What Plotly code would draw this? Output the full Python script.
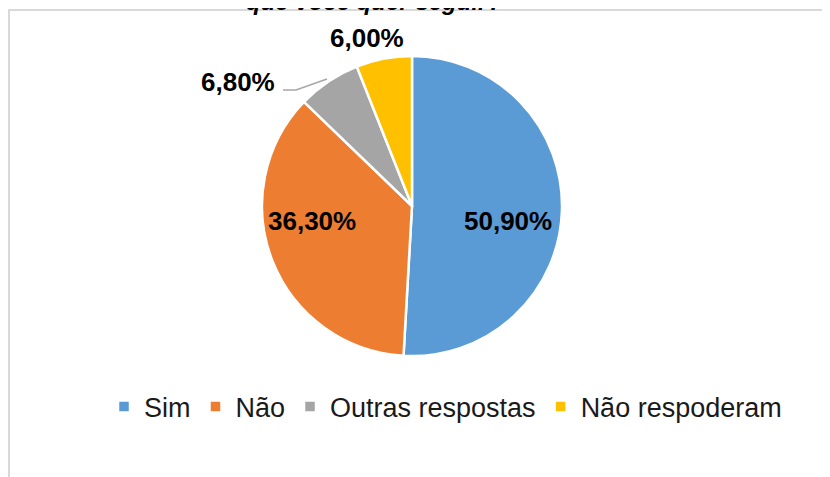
import plotly.graph_objects as go

W, H = 830, 477
OFF = 8  # the page body adds an 8px margin around the figure

labels = ['Sim', 'Não', 'Outras respostas', 'Não respoderam']
values = [50.9, 36.3, 6.8, 6.0]
colors = ['#5B9BD5', '#ED7D31', '#A5A5A5', '#FFC000']
title_tail = 'que você quer seguir?'

# where each percentage label sits on the page (x, y in pixels)
label_pos = [(508, 221), (312, 221), (238, 82), (367, 38)]


def px_x(x):
    return (x - OFF) / W


def px_y(y):
    return 1 - (y - OFF) / H


fig = go.Figure(
    go.Pie(
        labels=labels,
        values=values,
        sort=False,
        direction='clockwise',
        rotation=0,
        marker=dict(colors=colors, line=dict(color='white', width=2.5)),
        textinfo='none',
        domain=dict(x=[px_x(262), px_x(562)], y=[px_y(356), px_y(56)]),
        hoverinfo='skip',
    )
)

total = sum(values)
annotations = []
for val, (lx, ly) in zip(values, label_pos):
    annotations.append(dict(
        text=f'{val / total * 100:.2f}%'.replace('.', ','),
        x=px_x(lx), y=px_y(ly), xref='paper', yref='paper',
        showarrow=False, xanchor='center', yanchor='middle',
        font=dict(family='Liberation Sans', size=26, color='black', weight='bold'),
    ))

# cut-off title line at the very top
annotations.append(dict(
    text=f'<i>{title_tail}</i>',
    x=px_x(374), y=px_y(11), xref='paper', yref='paper',
    showarrow=False, xanchor='center', yanchor='bottom', yshift=-6,
    font=dict(family='Liberation Sans', size=24, color='black', weight='bold'),
))

shapes = [
    # leader line for the grey slice
    dict(type='path', xref='paper', yref='paper',
         path=f'M {px_x(283)},{px_y(90)} L {px_x(296)},{px_y(90)} L {px_x(327)},{px_y(79)}',
         line=dict(color='#A6A6A6', width=1.5)),
    # chart area border (runs off the right and bottom edges)
    dict(type='path', xref='paper', yref='paper',
         path=f'M {px_x(9)},{px_y(500)} L {px_x(9)},{px_y(10)} L {px_x(860)},{px_y(10)}',
         line=dict(color='#D9D9D9', width=2)),
]

fig.update_layout(
    width=W,
    height=H,
    margin=dict(l=0, r=0, t=0, b=0),
    paper_bgcolor='white',
    plot_bgcolor='white',
    showlegend=True,
    legend=dict(
        orientation='h',
        x=px_x(104), y=px_y(407),
        xanchor='left', yanchor='middle',
        font=dict(family='Liberation Sans', size=27, color='#1a1a1a'),
        itemclick=False, itemdoubleclick=False,
    ),
    annotations=annotations,
    shapes=shapes,
)

fig.write_html('out.html')
